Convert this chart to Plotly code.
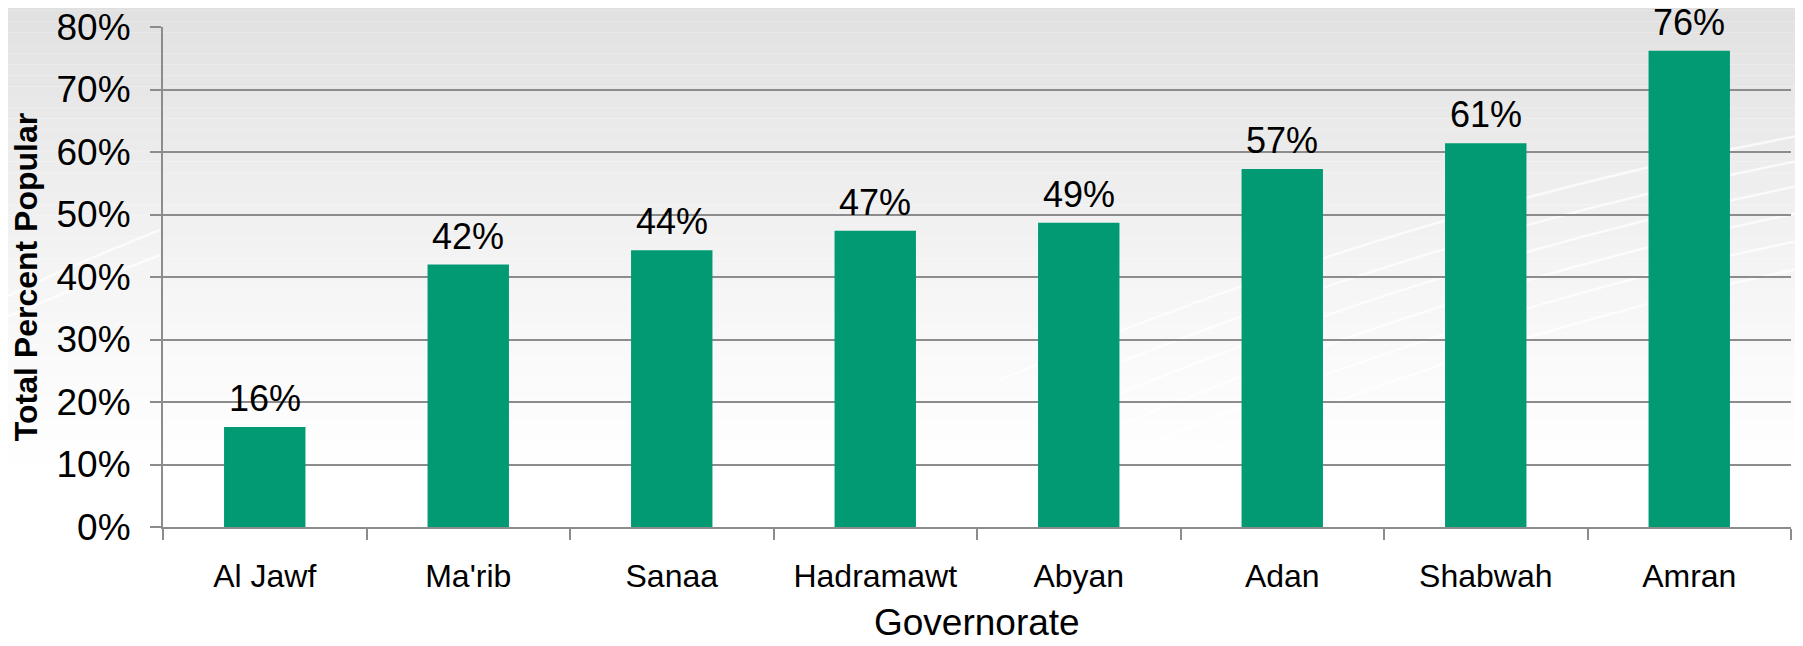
import plotly.graph_objects as go

# ---- data ----
governorates = ["Al Jawf", "Ma'rib", "Sanaa", "Hadramawt", "Abyan", "Adan", "Shabwah", "Amran"]
percent_popular = [16.0, 42.0, 44.3, 47.4, 48.7, 57.3, 61.4, 76.2]
y_ticks = [0, 10, 20, 30, 40, 50, 60, 70, 80]
x_title = "Governorate"
y_title = "Total Percent Popular"

# figure sits inside the page's default 8px body margin
OFF = 8
W, H = 1803 - 2 * OFF, 646 - 2 * OFF
ML, MR, MT, MB = 155, 4, 19, 111
PW, PH = W - ML - MR, H - MT - MB

BAR = "#019A72"
GRID = "#8C8C8C"
FONT = "Arial, Liberation Sans, sans-serif"


def px_x(x):
    # page pixel -> paper fraction
    return (x - OFF - ML) / PW


def px_y(y):
    return (H - MB - (y - OFF)) / PH


fig = go.Figure()
fig.add_trace(go.Bar(
    x=governorates,
    y=percent_popular,
    marker=dict(color=BAR, line=dict(width=0)),
    width=0.40,
    hoverinfo="x+y",
))

# data labels
for g, v in zip(governorates, percent_popular):
    fig.add_annotation(
        x=g, y=v, xref="x", yref="y",
        text=f"{round(v)}%", showarrow=False,
        yanchor="bottom", yshift=7, borderpad=0,
        font=dict(family=FONT, size=36, color="#000000"),
    )

# x-axis title (placed as annotation so it can sit near the bottom edge)
fig.add_annotation(
    x=0.5, y=px_y(622), xref="paper", yref="paper",
    text=x_title, showarrow=False, xanchor="center", yanchor="middle",
    borderpad=0, font=dict(family=FONT, size=37, color="#000000"),
)

# background gradient (decorative)
shapes = []
N = 60
for i in range(N):
    y0 = 646 * i / N
    y1 = 646 * (i + 1) / N
    t = min(1.0, ((y0 + y1) / 2) / 480.0)
    g = int(round(255 - 31 * (1 - t) ** 1.25))
    shapes.append(dict(
        type="rect", xref="paper", yref="paper", layer="below",
        x0=px_x(0), x1=px_x(1803), y0=px_y(y1), y1=px_y(y0),
        fillcolor=f"rgb({g},{g},{g})", line=dict(width=0),
    ))

# soft white swooshes (decorative)
swooshes = [
    ((1000, 380), (1400, 210), (1803, 135)),
    ((1040, 395), (1420, 235), (1803, 160)),
    ((1080, 410), (1440, 258), (1803, 185)),
    ((1120, 425), (1460, 282), (1803, 212)),
    ((1160, 440), (1480, 305), (1803, 240)),
    ((1200, 455), (1500, 330), (1803, 268)),
    ((0, 300), (60, 270), (160, 230)),
    ((0, 320), (70, 290), (160, 255)),
]
for (a, b, c) in swooshes:
    path = (f"M {px_x(a[0])},{px_y(a[1])} Q {px_x(b[0])},{px_y(b[1])} "
            f"{px_x(c[0])},{px_y(c[1])}")
    shapes.append(dict(
        type="path", xref="paper", yref="paper", layer="below", path=path,
        line=dict(color="rgba(255,255,255,0.7)", width=2.5),
    ))

fig.update_layout(
    width=W, height=H,
    margin=dict(l=ML, r=MR, t=MT, b=MB, autoexpand=False),
    paper_bgcolor="#ffffff",
    plot_bgcolor="rgba(0,0,0,0)",
    showlegend=False,
    bargap=0.6,
    shapes=shapes,
    font=dict(family=FONT, color="#000000"),
    xaxis=dict(
        type="category",
        showline=True, linecolor=GRID, linewidth=2,
        ticks="outside", tickson="boundaries", ticklen=11, tickwidth=2, tickcolor=GRID,
        tickfont=dict(family=FONT, size=32, color="#000000"),
        ticklabelstandoff=20,
        showgrid=False,
        automargin=False,
    ),
    yaxis=dict(
        range=[0, 80],
        tickvals=y_ticks,
        ticktext=[f"{t}%" for t in y_ticks],
        showline=True, linecolor=GRID, linewidth=2,
        ticks="outside", ticklen=11, tickwidth=2, tickcolor=GRID,
        tickfont=dict(family=FONT, size=37, color="#000000"),
        ticklabelstandoff=12,
        ticklabeloverflow="allow",
        showgrid=True, gridcolor=GRID, gridwidth=2,
        zeroline=False,
        title=dict(text=f"<b>{y_title}</b>",
                   font=dict(family=FONT, size=32, color="#000000"), standoff=12),
        automargin=False,
    ),
)

fig.write_html("out.html")
